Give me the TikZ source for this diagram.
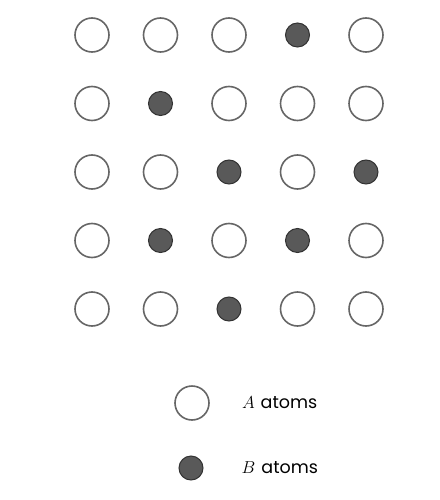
\documentclass[tikz,border=0pt]{standalone}
\usepackage{fontspec}
\newfontfamily\atomfont{Poppins}
\usetikzlibrary{positioning}
\tikzset{
	atomA/.style={circle, draw=black!60, line width=1.6pt, fill=white, minimum size=34pt, inner sep=0pt},
	atomB/.style={circle, draw=black!80, line width=1pt, fill=black!65, minimum size=24pt, inner sep=0pt},
	keytext/.style={font=\fontsize{18}{22}\selectfont, anchor=west, inner sep=0pt}
}

\begin{document}
\begin{tikzpicture}[x=1pt, y=-1pt]
		%%%%% START %%%%%
		\useasboundingbox (0, 0) rectangle (439, 500);
		
		% lattice, row by row
		\foreach \row/\kinds in {1/{A,A,A,B,A}, 2/{A,B,A,A,A}, 3/{A,A,B,A,B}, 4/{A,B,A,B,A}, 5/{A,A,B,A,A}} {
			\foreach \k [count=\col] in \kinds {
				\node[atom\k] (atom-\row-\col) at ({92 + 68.5*(\col-1)}, {35 + 68.5*(\row-1)}) {};
			}
		}
		
		% key
		\node[atomA] (keyA) at (192, 403) {};
		\node[keytext, right=32pt of keyA] (labelA) {$A$\hspace{6pt}{\atomfont\fontsize{17.5}{21}\selectfont atoms}};
		
		\node[atomB] (keyB) at (191, 468) {};
		\node[keytext, right=38pt of keyB] (labelB) {$B$\hspace{6pt}{\atomfont\fontsize{17.5}{21}\selectfont atoms}};
		
		%%%%% END %%%%%
	\end{tikzpicture}
\end{document}
